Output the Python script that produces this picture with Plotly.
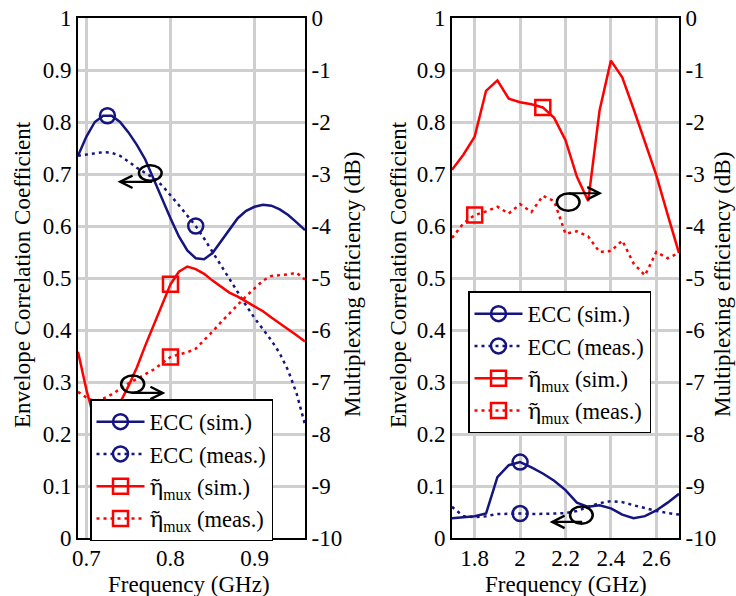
import numpy as np
import plotly.graph_objects as go

# ---------------- data ----------------
freq_l = [0.69, 0.70, 0.71, 0.72, 0.73, 0.74, 0.75, 0.76, 0.77, 0.78, 0.79, 0.80, 0.81, 0.82,
          0.83, 0.84, 0.85, 0.86, 0.87, 0.88, 0.89, 0.90, 0.91, 0.92, 0.93, 0.94, 0.95, 0.96]
ecc_sim_l = [0.735, 0.772, 0.800, 0.812, 0.812, 0.800, 0.780, 0.756, 0.728, 0.690, 0.652, 0.615, 0.580, 0.553,
             0.538, 0.536, 0.548, 0.570, 0.594, 0.615, 0.629, 0.637, 0.641, 0.639, 0.632, 0.621, 0.607, 0.592]
ecc_meas_l = [0.735, 0.737, 0.740, 0.742, 0.741, 0.735, 0.724, 0.712, 0.702, 0.692, 0.678, 0.660, 0.640, 0.620,
              0.600, 0.576, 0.550, 0.524, 0.498, 0.472, 0.447, 0.423, 0.401, 0.380, 0.355, 0.322, 0.278, 0.218]
mux_sim_l = [-6.42, -7.15, -7.75, -8.05, -7.85, -7.40, -7.08, -6.72, -6.30, -5.90, -5.52, -5.12, -4.88, -4.78,
             -4.83, -4.92, -5.05, -5.17, -5.28, -5.36, -5.45, -5.54, -5.64, -5.76, -5.87, -5.98, -6.10, -6.22]
mux_meas_l = [-7.19, -7.30, -7.37, -7.32, -7.24, -7.13, -7.03, -6.94, -6.85, -6.76, -6.64, -6.52, -6.47, -6.43,
              -6.36, -6.20, -6.03, -5.85, -5.68, -5.50, -5.35, -5.20, -5.05, -4.96, -4.95, -4.93, -4.90, -5.03]
marker_f_l = {"ecc_sim": 0.725, "ecc_meas": 0.83, "mux_sim": 0.80, "mux_meas": 0.80}

freq_r = [1.70, 1.75, 1.80, 1.85, 1.90, 1.95, 2.00, 2.05, 2.10, 2.15, 2.20,
          2.25, 2.30, 2.35, 2.40, 2.45, 2.50, 2.55, 2.60, 2.65, 2.70]
ecc_sim_r = [0.038, 0.040, 0.042, 0.047, 0.117, 0.140, 0.146, 0.136, 0.124, 0.110, 0.092,
             0.068, 0.060, 0.063, 0.057, 0.045, 0.038, 0.042, 0.053, 0.068, 0.085]
ecc_meas_r = [0.060, 0.042, 0.040, 0.042, 0.046, 0.047, 0.047, 0.046, 0.046, 0.047, 0.048,
              0.052, 0.060, 0.067, 0.071, 0.069, 0.063, 0.057, 0.052, 0.048, 0.045]
mux_sim_r = [-2.92, -2.63, -2.28, -1.40, -1.20, -1.55, -1.62, -1.66, -1.72, -1.92, -2.35,
             -3.05, -3.52, -1.78, -0.82, -1.14, -1.75, -2.38, -3.02, -3.78, -4.52]
mux_meas_r = [-4.23, -3.95, -3.79, -3.72, -3.63, -3.76, -3.58, -3.73, -3.42, -3.52, -4.15,
              -4.10, -4.20, -4.50, -4.48, -4.28, -4.72, -4.95, -4.50, -4.62, -4.52]
marker_f_r = {"ecc_sim": 2.0, "ecc_meas": 2.0, "mux_sim": 2.1, "mux_meas": 1.8}

ecc_ticks = [0, 0.1, 0.2, 0.3, 0.4, 0.5, 0.6, 0.7, 0.8, 0.9, 1]
db_ticks = [-10, -9, -8, -7, -6, -5, -4, -3, -2, -1, 0]
ETA = "<span style='font-family:Noto Serif'>η̃</span>"
names = ["ECC (sim.)", "ECC (meas.)", ETA + "<sub>mux</sub> (sim.)", ETA + "<sub>mux</sub> (meas.)"]

# ---------------- style ----------------
NAVY = "#15157f"
RED = "#ff0000"
FONT = "Liberation Serif"
FS = 23
LFS = 22.5
W, H = 736, 596
DOT = "3px,4px"

fig = go.Figure()


def add_panel(freq, ecc_s, ecc_m, mux_s, mux_m, mk, xa, ya_ecc, ya_db, legend):
    series = [
        (ecc_s, ya_ecc, NAVY, "solid", "circle-open", "ecc_sim", names[0]),
        (ecc_m, ya_ecc, NAVY, DOT, "circle-open", "ecc_meas", names[1]),
        (mux_s, ya_db, RED, "solid", "square-open", "mux_sim", names[2]),
        (mux_m, ya_db, RED, DOT, "square-open", "mux_meas", names[3]),
    ]
    for vals, ya, col, dash, sym, key, nm in series:
        fig.add_trace(go.Scatter(x=freq, y=vals, xaxis=xa, yaxis=ya, mode="lines",
                                 line=dict(color=col, width=2.5, dash=dash),
                                 showlegend=False, hoverinfo="skip"))
    for vals, ya, col, dash, sym, key, nm in series:
        fx = mk[key]
        fy = float(np.interp(fx, freq, vals))
        fig.add_trace(go.Scatter(x=[fx], y=[fy], xaxis=xa, yaxis=ya, mode="lines+markers",
                                 name=nm, legend=legend,
                                 line=dict(color=col, width=2.5, dash=dash),
                                 marker=dict(symbol=sym, size=15, color=col,
                                             line=dict(color=col, width=2.5))))


add_panel(freq_l, ecc_sim_l, ecc_meas_l, mux_sim_l, mux_meas_l, marker_f_l, "x", "y", "y2", "legend")
add_panel(freq_r, ecc_sim_r, ecc_meas_r, mux_sim_r, mux_meas_r, marker_f_r, "x2", "y3", "y4", "legend2")

ydom = [1 - 538 / H, 1 - 18 / H]
dom_l = [78 / W, 305 / W]
dom_r = [452 / W, 679 / W]

tickfont = dict(family=FONT, size=FS, color="black")
grid = dict(showgrid=True, gridcolor="#cfcfcf", gridwidth=3, zeroline=False, automargin=False,
            showline=True, linecolor="black", linewidth=2, ticks="", tickfont=tickfont)
right = dict(side="right", range=[-10, 0], tickvals=db_ticks, ticktext=[str(v) for v in db_ticks],
             showgrid=False, zeroline=False, automargin=False, showline=True, linecolor="black",
             linewidth=2, ticks="", tickfont=tickfont)
legend_style = dict(bgcolor="white", bordercolor="black", borderwidth=1.5, itemwidth=48,
                    font=dict(family=FONT, size=LFS, color="black"), tracegroupgap=0,
                    xanchor="left", yanchor="middle")

fig.update_layout(
    width=W, height=H, margin=dict(l=0, r=0, t=0, b=0, autoexpand=False),
    paper_bgcolor="white", plot_bgcolor="white",
    font=dict(family=FONT, size=FS, color="black"),
    xaxis=dict(domain=dom_l, range=[0.69, 0.96], tickvals=[0.7, 0.8, 0.9], anchor="y",
               mirror=True, ticklabelstandoff=-2, **grid),
    yaxis=dict(domain=ydom, range=[0, 1], tickvals=ecc_ticks, anchor="x", mirror=True, **grid),
    yaxis2=dict(overlaying="y", anchor="x", **right),
    xaxis2=dict(domain=dom_r, range=[1.7, 2.7], tickvals=[1.8, 2.0, 2.2, 2.4, 2.6], anchor="y3",
                mirror=True, ticklabelstandoff=-2, **grid),
    yaxis3=dict(domain=ydom, range=[0, 1], tickvals=ecc_ticks, anchor="x2", mirror=True, **grid),
    yaxis4=dict(overlaying="y3", anchor="x2", **right),
    legend=dict(x=90 / W, y=1 - 470 / H, **legend_style),
    legend2=dict(x=468 / W, y=1 - 362 / H, **legend_style),
)

# axis titles
ann = []
tfont = dict(family=FONT, size=FS, color="black")
for xc in [22, 398]:
    ann.append(dict(x=xc / W, y=1 - 275 / H, xref="paper", yref="paper", showarrow=False,
                    xanchor="center", yanchor="middle",
                    text="Envelope Correlation Coefficient", textangle=-90, font=tfont))
for xc in [352, 722]:
    ann.append(dict(x=xc / W, y=1 - 285 / H, xref="paper", yref="paper", showarrow=False,
                    xanchor="center", yanchor="middle",
                    text="Multiplexing efficiency (dB)", textangle=-90, font=tfont))
for xc in [189, 566]:
    ann.append(dict(x=xc / W, y=1 - 584 / H, xref="paper", yref="paper", showarrow=False,
                    xanchor="center", yanchor="middle",
                    text="Frequency (GHz)", font=tfont))

# arrows (head at x,y; tail at ax,ay)
arrows = [
    ("x", "y", 0.737, 0.685, 0.780, 0.685),
    ("x", "y", 0.794, 0.279, 0.752, 0.279),
    ("x2", "y3", 2.362, 0.663, 2.208, 0.663),
    ("x2", "y3", 2.130, 0.031, 2.280, 0.031),
]
for xr, yr, x, y, axv, ayv in arrows:
    ann.append(dict(x=x, y=y, ax=axv, ay=ayv, xref=xr, yref=yr, axref=xr, ayref=yr,
                    showarrow=True, arrowhead=5, arrowsize=1.1, arrowwidth=2.2,
                    arrowcolor="black", text="", standoff=0, startstandoff=0))
fig.update_layout(annotations=ann)

# ellipses
ellipses = [
    ("x", "y", 0.776, 0.702, 0.0135, 0.0150),
    ("x", "y", 0.755, 0.296, 0.0137, 0.0165),
    ("x2", "y3", 2.212, 0.646, 0.050, 0.0165),
    ("x2", "y3", 2.270, 0.044, 0.050, 0.0165),
]
for xr, yr, cx, cy, rx, ry in ellipses:
    fig.add_shape(type="circle", xref=xr, yref=yr, x0=cx - rx, x1=cx + rx, y0=cy - ry, y1=cy + ry,
                  line=dict(color="black", width=2.5))

fig.write_html("out.html")
